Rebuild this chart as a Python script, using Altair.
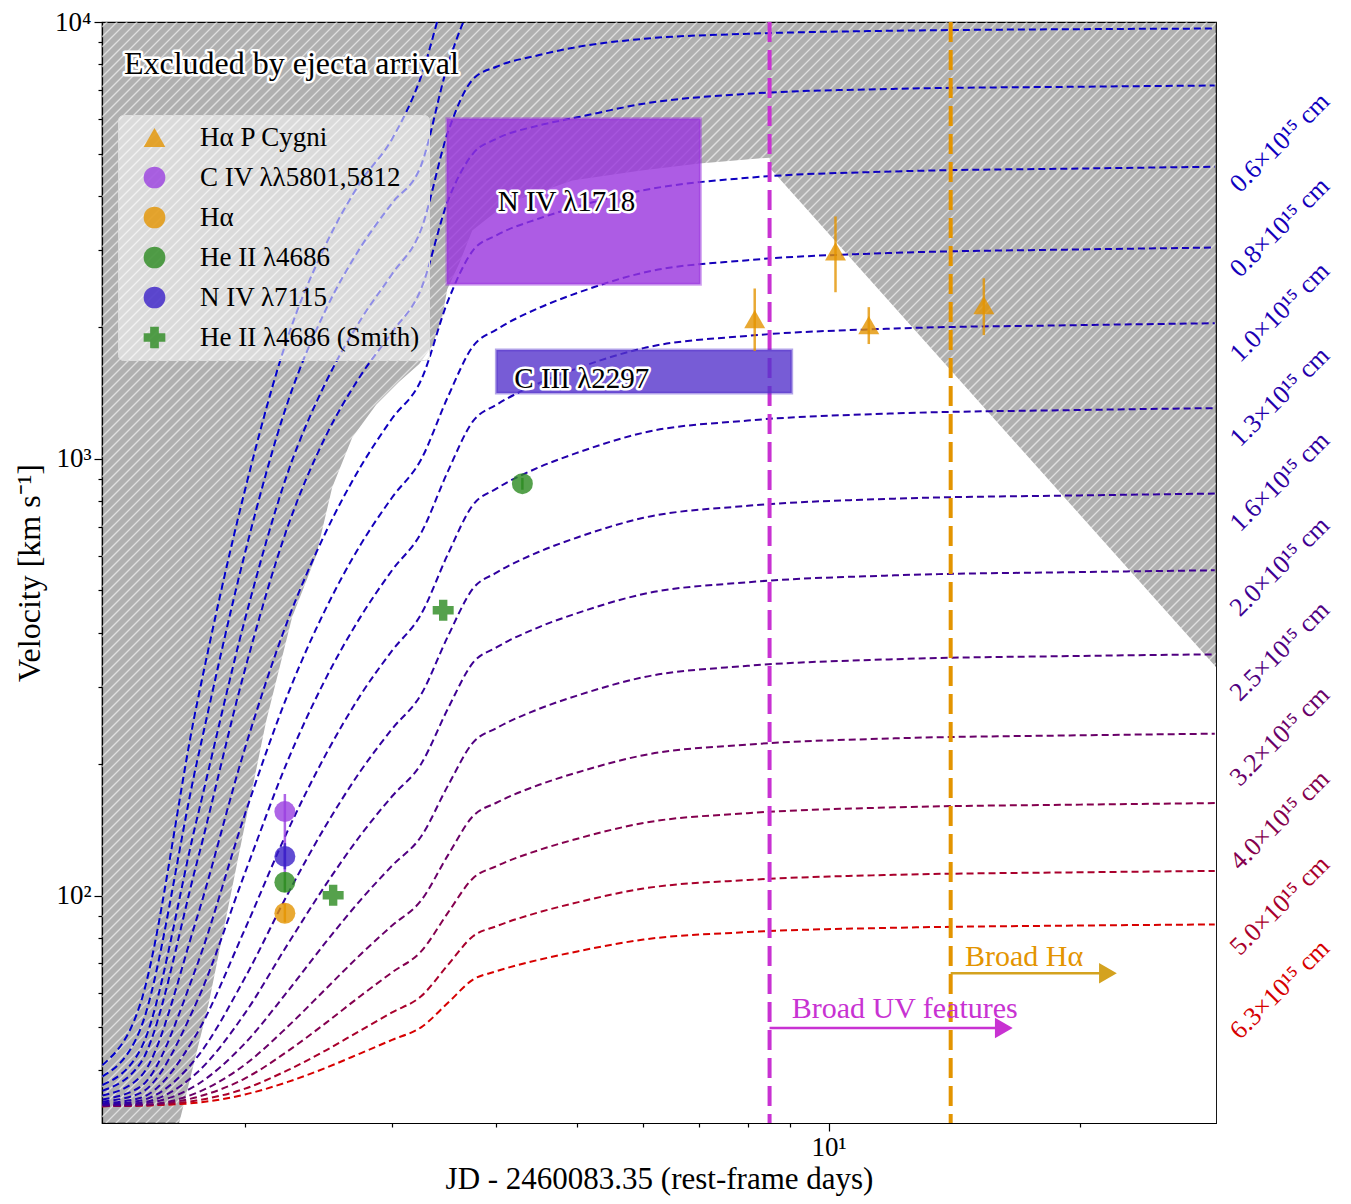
import math
import altair as alt
import numpy as np
import pandas as pd

FONT = "Liberation Serif"

# ---------------- values ----------------
T_GRID = [1.35, 1.5, 1.75, 2.0, 2.25, 2.5, 2.75, 3.0, 3.25, 3.5, 3.75, 4.0,
          4.5, 5.0, 6.0, 8.0, 12.0, 20.0, 29.0]

CURVE_R = [6.3, 5.0, 4.0, 3.2, 2.5, 2.0, 1.6, 1.26, 1.0, 0.8, 0.63, 0.5, 0.4, 0.32, 0.25]
CURVE_V = [
    [33.0, 33.1, 33.6, 35.1, 37.5, 40.4, 43.6, 46.8, 50.0, 56.9, 64.3, 67.2, 71.4, 74.6, 79.4, 82.6, 84.5, 85.5, 86.0],
    [33.0, 33.1, 34.0, 36.2, 39.9, 44.3, 49.2, 54.1, 58.9, 69.5, 80.8, 85.2, 91.7, 96.6, 103.9, 108.7, 111.7, 113.2, 114.0],
    [33.1, 33.2, 34.6, 38.2, 44.1, 51.2, 59.0, 66.8, 74.6, 91.5, 109.7, 116.9, 127.3, 135.1, 146.8, 154.6, 159.4, 161.7, 163.0],
    [33.1, 33.2, 35.4, 41.1, 50.2, 61.3, 73.4, 85.5, 97.6, 123.9, 152.2, 163.3, 179.5, 191.6, 209.8, 221.9, 229.3, 233.0, 235.0],
    [33.1, 33.4, 36.9, 46.0, 60.5, 78.4, 97.8, 117.2, 136.7, 178.8, 224.2, 242.0, 267.9, 287.3, 316.5, 336.0, 348.0, 354.0, 357.0],
    [33.2, 33.6, 39.3, 53.9, 77.5, 106.2, 137.6, 169.0, 200.4, 268.4, 341.6, 370.3, 412.2, 443.6, 490.6, 522.0, 541.4, 550.8, 556.0],
    [33.3, 34.0, 42.6, 65.0, 101.0, 145.0, 193.0, 241.0, 289.0, 393.0, 505.0, 549.0, 613.0, 661.0, 733.0, 781.0, 811.0, 825.0, 833.0],
    [33.5, 34.5, 48.3, 84.0, 141.0, 211.0, 288.0, 364.0, 441.0, 606.0, 785.0, 855.0, 957.0, 1033.0, 1148.0, 1224.0, 1271.0, 1294.0, 1307.0],
    [33.8, 35.4, 57.1, 113.0, 204.0, 315.0, 435.0, 556.0, 677.0, 938.0, 1220.0, 1330.0, 1491.0, 1612.0, 1793.0, 1913.0, 1988.0, 2024.0, 2044.0],
    [34.2, 36.6, 69.0, 154.0, 289.0, 455.0, 636.0, 816.0, 997.0, 1389.0, 1811.0, 1976.0, 2217.0, 2398.0, 2669.0, 2850.0, 2962.0, 3016.0, 3046.0],
    [34.9, 38.6, 88.6, 218.0, 427.0, 681.0, 959.0, 1237.0, 1515.0, 2300.0, 3000.0, 3250.0, 3550.0, 3780.0, 4120.0, 4400.0, 4550.0, 4620.0, 4663.0],
    [35.8, 41.5, 118.5, 330.0, 700.0, 1130.0, 1550.0, 1950.0, 2450.0, 3900.0, 5000.0, 5400.0, 5800.0, 6050.0, 6500.0, 6850.0, 7030.0, 7110.0, 7155.0],
    [36.9, 44.6, 149.0, 430.0, 930.0, 1500.0, 2080.0, 2650.0, 3350.0, 5600.0, 7400.0, 7900.0, 8400.0, 8770.0, 9150.0, 9400.0, 9550.0, 9630.0, 9661.0],
    [38.6, 49.8, 201.0, 610.0, 1350.0, 2200.0, 3050.0, 3850.0, 4700.0, 8000.0, 11000.0, 12000.0],
    [41.0, 57.0, 273.0, 850.0, 1900.0, 3100.0, 4300.0, 5400.0, 7500.0, 12000.0, 15000.0],
]

LABEL_TEXT = ["0.6×10¹⁵ cm", "0.8×10¹⁵ cm", "1.0×10¹⁵ cm", "1.3×10¹⁵ cm", "1.6×10¹⁵ cm",
              "2.0×10¹⁵ cm", "2.5×10¹⁵ cm", "3.2×10¹⁵ cm", "4.0×10¹⁵ cm", "5.0×10¹⁵ cm",
              "6.3×10¹⁵ cm"]
LABEL_R = [0.63, 0.8, 1.0, 1.26, 1.6, 2.0, 2.5, 3.2, 4.0, 5.0, 6.3]
LABEL_V = [5293, 3387, 2167, 1387, 887, 567, 363, 232, 149, 95, 61]
LABEL_T = 34.7

# boundary of the allowed (white) region; above it is excluded by ejecta arrival
BOUND_T = [1.348, 1.667, 1.810, 2.005, 2.119, 2.277, 2.433, 2.543, 2.688, 2.871, 3.059,
           3.233, 3.351, 3.445, 3.493, 3.611, 3.742, 4.111, 4.932, 5.934, 7.003, 8.496,
           8.52, 29.1]
BOUND_V = [30, 30.1, 56.9, 149.5, 250.1, 434, 600, 860, 1120, 1330, 1501, 1649, 1813,
           2111, 2445, 2803, 3334, 3842, 4335, 4568, 4741, 4893, 4617, 334]

SERIES = ["Hα P Cygni", "C IV λλ5801,5812", "Hα", "He II λ4686", "N IV λ7115",
          "He II λ4686 (Smith)"]
SERIES_COLOR = ["#e39400", "#9a3fe0", "#e39400", "#2b8a1f", "#3a1fc8", "#2b8a1f"]
SERIES_SHAPE = ["triangle-up", "circle", "circle", "circle", "circle", "cross"]

PCYG_T = [8.155, 10.19, 11.17, 15.34]
PCYG_V = [2089, 2985, 2024, 2247]
PCYG_LO = [1766, 2407, 1832, 1920]
PCYG_HI = [2455, 3589, 2225, 2591]

CIV_T, CIV_V, CIV_LO, CIV_HI = [2.232], [155.9], [113.0], [171.0]
NIV_T, NIV_V, NIV_LO, NIV_HI = [2.232], [123.1], [115.0], [132.0]
HEII_T, HEII_V, HEII_LO, HEII_HI = [2.232, 4.297], [107.4, 877.7], [102.0, 850.0], [113.0, 905.0]
HA_T, HA_V, HA_LO, HA_HI = [2.232], [91.2], [87.0], [96.0]
SMITH_T, SMITH_V = [2.55, 3.454], [100.3, 450.5]

BOX_NAME = ["N IV λ1718", "C III λ2297"]
BOX_T1 = [3.49, 4.0]
BOX_T2 = [7.02, 9.03]
BOX_V1 = [2510, 1416]
BOX_V2 = [6003, 1775]
BOX_COLOR = ["#9933dd", "#5533cc"]
BOX_TEXT_T = [4.853, 4.203]
BOX_TEXT_V = [3881, 1524]

UV_T, HALPHA_T = 8.496, 14.0

T_MIN, T_MAX = 1.348, 29.1
V_MIN, V_MAX = 30.2, 10000

# ---------------- helpers ----------------
def rb(R):
    f = (R - 0.25) / (6.3 - 0.25)
    f = max(0.0, min(1.0, f))
    r = int(round(215 * f))
    b = int(round(205 * (1 - f)))
    return f"#{r:02x}00{b:02x}"

X_SCALE = alt.Scale(type="log", domain=[T_MIN, T_MAX], nice=False)
Y_SCALE = alt.Scale(type="log", domain=[V_MIN, V_MAX], nice=False)

X_AX = alt.Axis(values=[2, 3, 4, 5, 6, 7, 8, 9, 10, 20],
                labelExpr="datum.value == 10 ? '10¹' : ''",
                title="JD - 2460083.35 (rest-frame days)", grid=False,
                tickSize={"condition": {"test": "datum.value == 10", "value": 8}, "value": 4},
                tickWidth=1.2, tickColor="black",
                domainColor="black", domainWidth=1.2,
                labelFont=FONT, labelFontSize=27, labelColor="black",
                titleFont=FONT, titleFontSize=31, titleFontWeight="normal",
                titleColor="black", labelPadding=3, titlePadding=4,
                labelOverlap=False, labelFlush=False)
Y_VALUES = [40, 50, 60, 70, 80, 90, 100, 200, 300, 400, 500, 600, 700, 800, 900,
            1000, 2000, 3000, 4000, 5000, 6000, 7000, 8000, 9000, 10000]
Y_AX = alt.Axis(values=Y_VALUES,
                labelExpr="datum.value == 100 ? '10²' : datum.value == 1000 ? '10³' : datum.value == 10000 ? '10⁴' : ''",
                title="Velocity [km s⁻¹]", grid=False,
                tickSize={"condition": {"test": "datum.value == 100 || datum.value == 1000 || datum.value == 10000", "value": 8}, "value": 4},
                tickWidth=1.2, tickColor="black",
                domainColor="black", domainWidth=1.2,
                labelFont=FONT, labelFontSize=27, labelColor="black",
                titleFont=FONT, titleFontSize=32, titleFontWeight="normal",
                titleColor="black", labelPadding=3, titlePadding=8,
                labelOverlap=False, labelFlush=False)


def X(f):
    return alt.X(f"{f}:Q", scale=X_SCALE, axis=X_AX)


def Y(f):
    return alt.Y(f"{f}:Q", scale=Y_SCALE, axis=Y_AX)


PLOT_W, PLOT_H = 1114, 1101

# ---------------- hatch texture of excluded region ----------------
px_dec_x = PLOT_W / math.log10(T_MAX / T_MIN)
px_dec_y = PLOT_H / math.log10(V_MAX / V_MIN)
slope = px_dec_x / px_dec_y
step = 10.0 / px_dec_y
b_lo = math.log10(V_MIN) - slope * math.log10(T_MAX) - step
b_hi = math.log10(V_MAX) - slope * math.log10(T_MIN) + step
hrows = []
for i, b in enumerate(np.arange(b_lo, b_hi, step)):
    for t in (T_MIN, T_MAX):
        hrows.append({"t": t, "v": 10 ** (b + slope * math.log10(t)), "id": i})
hatch = alt.Chart(pd.DataFrame(hrows)).mark_line(
    color="white", strokeWidth=1.3, opacity=0.6, clip=True
).encode(x=X("t"), y=Y("v"), detail="id:N")

allowed = alt.Chart(pd.DataFrame({"t": BOUND_T, "v": BOUND_V, "base": [V_MIN] * len(BOUND_T)})).mark_area(
    color="white", opacity=1, clip=True, interpolate="linear"
).encode(x=X("t"), y=Y("v"), y2="base:Q")

# ---------------- model curves ----------------
crow = []
for R, vals in zip(CURVE_R, CURVE_V):
    for t, v in zip(T_GRID, vals):
        crow.append({"t": t, "v": v, "R": R, "col": rb(R)})
curves = alt.Chart(pd.DataFrame(crow)).mark_line(
    strokeDash=[7, 4], strokeWidth=2, clip=True, interpolate="monotone"
).encode(x=X("t"), y=Y("v"), color=alt.Color("col:N", scale=None), detail="R:N")

vlines = alt.Chart(pd.DataFrame({"t": [UV_T, HALPHA_T], "col": ["#c832d2", "#e39400"]})).mark_rule(
    strokeDash=[20, 8], strokeWidth=4
).encode(x=X("t"), color=alt.Color("col:N", scale=None))

# ---------------- boxes ----------------
boxdf = pd.DataFrame({"t1": BOX_T1, "t2": BOX_T2, "v1": BOX_V1, "v2": BOX_V2,
                      "col": BOX_COLOR, "name": BOX_NAME,
                      "tt": BOX_TEXT_T, "tv": BOX_TEXT_V})
boxes = alt.Chart(boxdf).mark_rect(fillOpacity=0.8, strokeOpacity=0.45, strokeWidth=3).encode(
    x=X("t1"), x2="t2:Q", y=Y("v1"), y2="v2:Q",
    fill=alt.Fill("col:N", scale=None), stroke=alt.Stroke("col:N", scale=None))


def outlined(df, xf, yf, tf, **kw):
    halo = alt.Chart(df).mark_text(font=FONT, color="white", stroke="white", strokeWidth=5,
                                   strokeJoin="round", **kw).encode(
        x=X(xf), y=Y(yf), text=f"{tf}:N")
    core = alt.Chart(df).mark_text(font=FONT, color="black", **kw).encode(
        x=X(xf), y=Y(yf), text=f"{tf}:N")
    return halo + core


niv_txt = outlined(boxdf.iloc[[0]], "tt", "tv", "name", fontSize=29, align="center", baseline="middle")
ciii_txt = outlined(boxdf.iloc[[1]], "tt", "tv", "name", fontSize=29, align="left", baseline="middle")
excl_txt = outlined(pd.DataFrame({"t": [1.432], "v": [7600], "s": ["Excluded by ejecta arrival"]}),
                    "t", "v", "s", fontSize=32, align="left", baseline="alphabetic")

# ---------------- measurements ----------------
prow, erow = [], []
def add(name, ts, vs, lo=None, hi=None):
    col = SERIES_COLOR[SERIES.index(name)]
    for i, (t, v) in enumerate(zip(ts, vs)):
        prow.append({"t": t, "v": v, "series": name})
        if lo is not None:
            erow.append({"t": t, "lo": lo[i], "hi": hi[i], "col": col})

add("Hα P Cygni", PCYG_T, PCYG_V, PCYG_LO, PCYG_HI)
add("C IV λλ5801,5812", CIV_T, CIV_V, CIV_LO, CIV_HI)
add("N IV λ7115", NIV_T, NIV_V, NIV_LO, NIV_HI)
add("He II λ4686", HEII_T, HEII_V, HEII_LO, HEII_HI)
add("Hα", HA_T, HA_V, HA_LO, HA_HI)
add("He II λ4686 (Smith)", SMITH_T, SMITH_V)

ebars = alt.Chart(pd.DataFrame(erow)).mark_rule(strokeWidth=2.5, opacity=0.8).encode(
    x=X("t"), y=Y("lo"), y2="hi:Q", color=alt.Color("col:N", scale=None))

LEG = alt.Legend(title=None, orient="none", legendX=16, legendY=93,
                 fillColor="rgba(255,255,255,0.55)", strokeColor="#dddddd",
                 cornerRadius=5, padding=9, labelFont=FONT, labelFontSize=27,
                 labelColor="black", labelLimit=400, symbolSize=470,
                 symbolOpacity=0.8, rowPadding=12, symbolOffset=14, labelOffset=32,
                 symbolStrokeWidth=0)
points = alt.Chart(pd.DataFrame(prow)).mark_point(filled=True, size=440, opacity=0.8).encode(
    x=X("t"), y=Y("v"),
    color=alt.Color("series:N", scale=alt.Scale(domain=SERIES, range=SERIES_COLOR), legend=LEG),
    shape=alt.Shape("series:N", scale=alt.Scale(domain=SERIES, range=SERIES_SHAPE), legend=LEG))

# ---------------- arrows and annotations ----------------
arr = pd.DataFrame({"t1": [UV_T, HALPHA_T], "t2": [16.21, 21.6], "v": [49.85, 66.5],
                    "col": ["#c832d2", "#d4a21f"]})
arrow_lines = alt.Chart(arr).mark_rule(strokeWidth=2.5).encode(
    x=X("t1"), x2="t2:Q", y=Y("v"), color=alt.Color("col:N", scale=None))
arrow_heads = alt.Chart(arr).mark_point(shape="triangle-right", filled=True, size=420, opacity=1).encode(
    x=X("t2"), y=Y("v"), color=alt.Color("col:N", scale=None))

ann = pd.DataFrame({"t": [9.03, 14.56], "v": [52.5, 69.0],
                    "s": ["Broad UV features", "Broad Hα"], "col": ["#c832d2", "#e39400"]})
ann_txt = alt.Chart(ann).mark_text(font=FONT, fontSize=30, align="left", baseline="alphabetic").encode(
    x=X("t"), y=Y("v"), text="s:N", color=alt.Color("col:N", scale=None))

labdf = pd.DataFrame({"t": [LABEL_T] * len(LABEL_TEXT), "v": LABEL_V, "s": LABEL_TEXT,
                      "col": [rb(r) for r in LABEL_R]})
rlabels = alt.Chart(labdf).mark_text(font=FONT, fontSize=26, angle=315, align="center",
                                     baseline="middle", clip=False).encode(
    x=X("t"), y=Y("v"), text="s:N", color=alt.Color("col:N", scale=None))

chart = alt.layer(
    hatch, allowed, curves, vlines, boxes, niv_txt, ciii_txt, excl_txt,
    ebars, points, arrow_lines, arrow_heads, ann_txt, rlabels
).resolve_scale(color="independent", shape="independent", fill="independent", stroke="independent").properties(
    width=PLOT_W, height=PLOT_H,
    padding={"left": 94, "top": 14, "right": 125, "bottom": 80},
    autosize=alt.AutoSizeParams(type="none"),
).configure_view(fill="#b0b0b0", stroke="black", strokeWidth=1.2)

chart.save("out.html", embed_options={"renderer": "svg", "actions": False})
